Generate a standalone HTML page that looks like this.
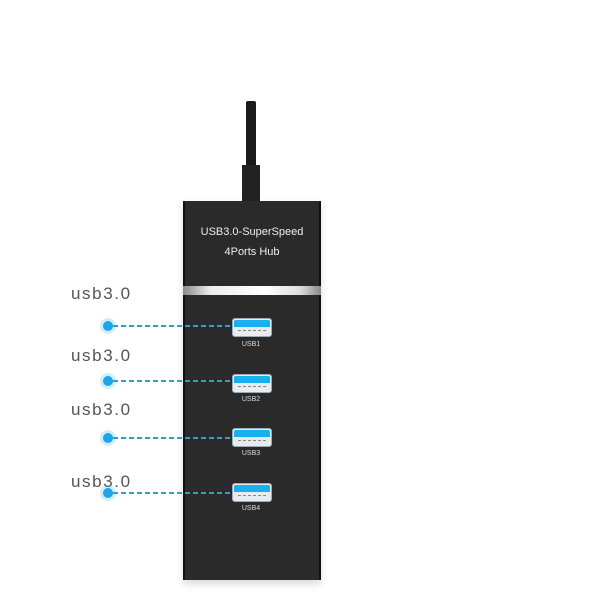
<!DOCTYPE html>
<html><head><meta charset="utf-8"><style>
html,body{margin:0;padding:0;background:#fff;}
body{width:600px;height:600px;position:relative;overflow:hidden;font-family:"Liberation Sans",sans-serif;}
.a{position:absolute;}
.lbl{position:absolute;left:71px;font-size:17px;letter-spacing:1.6px;color:#555;line-height:20px;}
.dot{position:absolute;left:103px;width:10px;height:10px;border-radius:50%;background:#1ea4e8;box-shadow:0 0 0 3px rgba(30,164,232,0.2);}
.line{position:absolute;left:113px;width:125px;height:1.5px;background:repeating-linear-gradient(90deg,#2a9fcf 0 5px,transparent 5px 8px);}
.port{position:absolute;left:232px;width:38px;height:17px;border-radius:3px;background:#e8ecef;border:1px solid #9ab;overflow:hidden;}
.port i{position:absolute;left:1px;right:1px;top:1px;height:7px;background:#18b0ee;border-radius:2px 2px 0 0;}
.port b{position:absolute;left:5px;right:5px;top:11px;border-top:1px dashed #888;}
.pl{position:absolute;left:232px;width:38px;text-align:center;font-size:7px;color:#ddd;}
</style></head><body>
<div class="a" style="left:246px;top:101px;width:10px;height:70px;background:#1a1a1a;border-radius:2px 2px 0 0"></div>
<div class="a" style="left:242px;top:165px;width:18px;height:37px;background:#222"></div>
<div class="a" style="left:183px;top:201px;width:138px;height:379px;background:#2a2a2a;border-left:2px solid #111;border-right:2px solid #111;box-sizing:border-box;box-shadow:0 4px 8px rgba(0,0,0,0.15)"></div>
<div class="a" style="left:183px;top:286px;width:138px;height:9px;background:linear-gradient(90deg,#888,#eee 20%,#fff 60%,#ddd 85%,#888)"></div>
<div class="a" style="left:183px;top:222px;width:138px;text-align:center;color:#eee;font-size:11px;line-height:20px">USB3.0-SuperSpeed<br>4Ports Hub</div>

<div class="lbl" style="top:284px">usb3.0</div>
<div class="lbl" style="top:346px">usb3.0</div>
<div class="lbl" style="top:400px">usb3.0</div>
<div class="lbl" style="top:472px">usb3.0</div>

<div class="dot" style="top:321px"></div><div class="line" style="top:325px"></div>
<div class="dot" style="top:376px"></div><div class="line" style="top:380px"></div>
<div class="dot" style="top:433px"></div><div class="line" style="top:437px"></div>
<div class="dot" style="top:488px"></div><div class="line" style="top:492px"></div>

<div class="port" style="top:318px"><i></i><b></b></div><div class="pl" style="top:341px">USB1</div>
<div class="port" style="top:374px"><i></i><b></b></div><div class="pl" style="top:396px">USB2</div>
<div class="port" style="top:428px"><i></i><b></b></div><div class="pl" style="top:450px">USB3</div>
<div class="port" style="top:483px"><i></i><b></b></div><div class="pl" style="top:505px">USB4</div>
</body></html>
